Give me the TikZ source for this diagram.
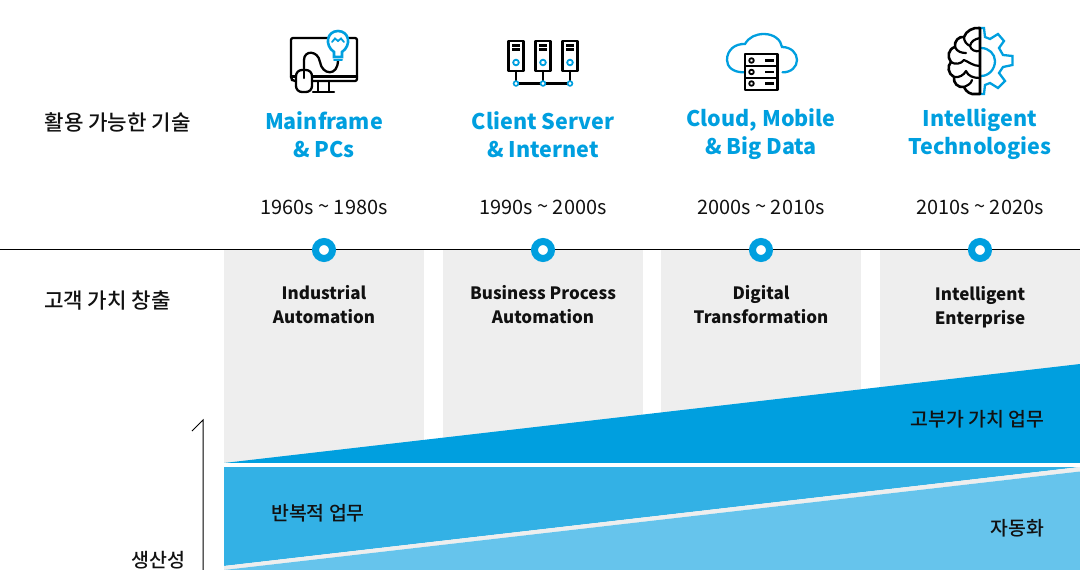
\documentclass[tikz,border=0pt]{standalone}
\usepackage{xcolor}
\usepackage{fontspec}
\setmainfont{Noto Sans CJK KR}
\newfontfamily\mediumfont{Noto Sans CJK KR Medium}
\usetikzlibrary{arrows.meta, positioning, calc}
\definecolor{brandblue}{HTML}{009FDF}
\definecolor{midblue}{HTML}{33B1E5}
\definecolor{paleblue}{HTML}{66C4EC}
\definecolor{panelgrey}{HTML}{EEEEEE}
\definecolor{inkblack}{HTML}{111111}

\begin{document}
\begin{tikzpicture}[
    x=1pt,
    y=-1pt,
    eratitle/.style={
      align=center,
      inner sep=0pt,
      text=brandblue,
      font=\fontsize{21.5}{28}\selectfont\bfseries
    },
    eradate/.style={
      inner sep=0pt,
      text=inkblack,
      font=\fontsize{19.9}{24}\selectfont
    },
    valuelabel/.style={
      align=center,
      inner sep=0pt,
      text=inkblack,
      font=\fontsize{17}{24}\selectfont\bfseries
    },
    rowlabel/.style={
      anchor=west,
      inner sep=0pt,
      text=inkblack,
      font=\fontsize{21.2}{24}\selectfont\mediumfont
    },
    worklabel/.style={
      inner sep=0pt,
      text=inkblack,
      font=\fontsize{19.4}{24}\selectfont\mediumfont
    },
    panel/.style={
      fill=panelgrey,
      draw=none,
      minimum width=200pt,
      minimum height=214pt,
      anchor=north west,
      inner sep=0pt
    },
    eradot/.style={
      circle,
      draw=brandblue,
      fill=white,
      line width=7pt,
      minimum size=17pt,
      inner sep=0pt
    },
    icon/.style={line width=2.3pt, draw=black, line join=round, line cap=round},
    iconblue/.style={line width=2.3pt, draw=brandblue, line join=miter, line cap=round}
]
\useasboundingbox (0,0) rectangle (1080,570);

% panels
\node[panel] (panelA) at (224,250) {};
\node[panel] (panelB) at (443,250) {};
\node[panel] (panelC) at (661,250) {};
\node[panel] (panelD) at (880,250) {};

% wedges
\fill[brandblue] (224,463) -- (1080,364) -- (1080,463) -- cycle;
\fill[white] (224,463) rectangle (1080,467);
\fill[midblue] (224,467) -- (1080,467) -- (224,566) -- cycle;
\fill[panelgrey] (224,566) -- (1080,467) -- (1080,471.5) -- (224,570) -- cycle;
\fill[paleblue] (224,570) -- (1080,471.5) -- (1080,570) -- cycle;

% timeline
\coordinate (lineL) at (0,249.5);
\coordinate (lineR) at (1080,249.5);
\draw[line width=1.2pt, black] (lineL) -- (lineR);
\node[eradot] (dotA) at (324,250) {};
\node[eradot] (dotB) at (543,250) {};
\node[eradot] (dotC) at (761,250) {};
\node[eradot] (dotD) at (980,250) {};

% productivity axis
\coordinate (axisB) at (203,570);
\coordinate (axisT) at (203,420);
\coordinate (axisH) at (192,431);
\draw[line width=1pt, black] (axisB) -- (axisT) -- (axisH);

% row labels
\node[rowlabel] (techLabel) at (44.5,122) {활용 가능한 기술};
\node[rowlabel] (valueLabel) at (44,301) {고객 가치 창출};
\node[anchor=east, inner sep=0pt, text=inkblack, font=\fontsize{19.5}{24}\selectfont\mediumfont] (prodLabel) at (185.5,560) {생산성};

% eras
\node[eratitle] (eraA) at (324,135) {Mainframe\\\& PCs};
\node[eratitle] (eraB) at (543,135) {Client Server\\\& Internet};
\node[eratitle] (eraC) at (761,134) {Cloud, Mobile\\\& Big Data};
\node[eratitle] (eraD) at (980,134) {Intelligent\\Technologies};

\node[eradate, above=23pt of dotA] (dateA) {1960s \raisebox{1pt}{\textasciitilde} 1980s};
\node[eradate, above=23pt of dotB] (dateB) {1990s \raisebox{1pt}{\textasciitilde} 2000s};
\node[eradate, above=23pt of dotC] (dateC) {2000s \raisebox{1pt}{\textasciitilde} 2010s};
\node[eradate, above=23pt of dotD] (dateD) {2010s \raisebox{1pt}{\textasciitilde} 2020s};

\node[valuelabel] (valueA) at (324,305) {Industrial\\Automation};
\node[valuelabel] (valueB) at (543,305) {Business Process\\Automation};
\node[valuelabel] (valueC) at (761,305) {Digital\\Transformation};
\node[valuelabel] (valueD) at (980,307) {Intelligent\\Enterprise};

% work types
\node[worklabel, anchor=east] (highWork) at (1044.5,419.5) {고부가 가치 업무};
\node[worklabel, anchor=west] (repeatWork) at (271,513.5) {반복적 업무};
\node[worklabel, anchor=east] (autoWork) at (1044.5,528.5) {자동화};

% monitor icon
\draw[icon, rounded corners=2pt] (296,81) -- (293,81) -- (291,79) -- (291,38) -- (357,38) -- (357,81) -- (312,81);
\draw[icon] (291,76.5) -- (296,76.5) (312,76.5) -- (357,76.5);
\draw[icon] (318,81) -- (318,91) (329,81) -- (329,91);
\draw[icon] (313,92) -- (334,92);
\draw[icon, rounded corners=6pt] (296,70) rectangle (312,92);
\draw[icon] (304,70) -- (304,78);
\draw[icon] (304,70) -- (304,60) .. controls (304,50) and (318,50) .. (320,62) .. controls (322,75) and (338,77) .. (338,60);
\draw[iconblue, fill=white, line width=2.6pt] (334,52) .. controls (324,45) and (327,31) .. (338,31) .. controls (349,31) and (352,45) .. (342,52) -- (342,57) -- (334,57) -- cycle;
\draw[iconblue, line width=2pt] (334,60) -- (342,60);
\draw[iconblue, line width=1.8pt] (332,42) -- (335,38.5) -- (338,41) -- (341,38.5) -- (344,42);

% server icon
\foreach \x in {516,543,570} {
  \draw[icon] (\x-7.5,41) rectangle (\x+7.5,71);
  \draw[icon, line cap=butt] (\x-4,45.5) -- (\x+4,45.5) (\x-4,49.5) -- (\x+4,49.5);
  \draw[icon] (\x,71) -- (\x,83);
  \draw[iconblue, line width=1.8pt] (\x,62.5) circle (2.8);
}
\draw[icon] (516,83.5) -- (570,83.5);
\foreach \x in {516,543,570} {
  \draw[iconblue, line width=1.6pt, fill=white] (\x,83.5) circle (2.4);
}

% cloud icon
\draw[iconblue] (744,72.3) .. controls (732,72.5) and (727,66) .. (727,60) .. controls (727,50) and (735,43.5) .. (745,44) .. controls (749,37) and (756,34) .. (764,34) .. controls (774,34) and (781,40) .. (782,47) .. controls (791,47) and (797,53) .. (797,60) .. controls (797,67) and (791,72.5) .. (782.5,72.3);
\draw[icon, line cap=butt, line width=2.2pt] (745,54) rectangle (777.5,90);
\draw[icon, line cap=butt, line width=2.2pt] (745,66) -- (777.5,66) (745,77.7) -- (777.5,77.7);
\foreach \y in {60.5,72,83.5} {
  \draw[icon, line width=1.8pt] (751.5,\y) circle (2.3);
  \draw[icon, line cap=butt] (765,\y) -- (774,\y);
}

% brain and gear icon
\draw[iconblue] (980,28) -- (984,28) -- (985,37) -- (990,39) -- (998,34) -- (1004,41) -- (999,48) -- (1003,55) -- (1012.5,56) -- (1012.5,65) -- (1003,67) -- (999,73) -- (1005,81) -- (998,88) -- (990,83) -- (985,85) -- (984,94) -- (980,94);
\draw[iconblue] (981,48) .. controls (989,48) and (995,54) .. (995,61) .. controls (995,69) and (989,76) .. (981,76);
\draw[icon, line width=2.6pt] (980,28) -- (980,94) -- (976,94)
  .. controls (971,95) and (966,92) .. (964,87)
  .. controls (958,88) and (953,83) .. (954,77)
  .. controls (948,74) and (947,66) .. (951,62)
  .. controls (947,57) and (948,49) .. (955,47)
  .. controls (954,41) and (959,36) .. (964,37)
  .. controls (966,31) and (973,27) .. (980,28);
\draw[icon, line width=2.2pt] (980,38) .. controls (975,39) and (971,41) .. (970,46);
\draw[icon, line width=2.2pt] (964,37) .. controls (964,41) and (966,44) .. (970,46) .. controls (971,50) and (975,52) .. (980,51);
\draw[icon, line width=2.2pt] (955,47) .. controls (957,52) and (962,53) .. (966,53);
\draw[icon, line width=2.2pt] (951,62) .. controls (955,65) and (961,64) .. (964,60) .. controls (969,62) and (973,66) .. (980,66);
\draw[icon, line width=2.2pt] (954,77) .. controls (959,78) and (964,75) .. (966,71) .. controls (968,76) and (973,78) .. (980,78);
\draw[icon, line width=2.2pt] (964,87) .. controls (968,85) and (971,84) .. (972,80);
\end{tikzpicture}
\end{document}
